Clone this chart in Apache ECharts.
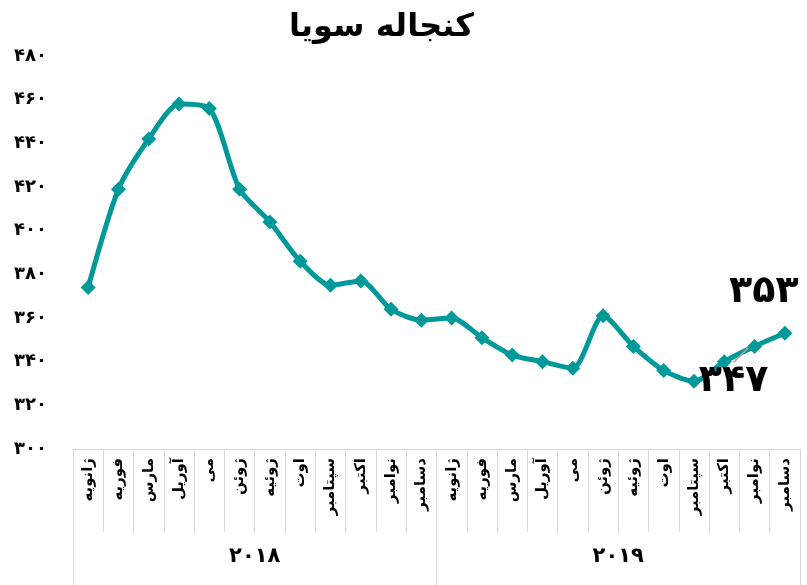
<!DOCTYPE html>
<html>
<head>
<meta charset="utf-8">
<script src="https://cdn.jsdelivr.net/npm/echarts@6/dist/echarts.min.js"></script>
<style>
  html, body { margin: 0; padding: 0; background: #fff; }
  #chart { width: 807px; height: 585px; }
</style>
</head>
<body>
<div id="chart"></div>
<script>
// داده ها
const months = ['ژانویه', 'فوریه', 'مارس', 'آوریل', 'می', 'ژوئن', 'ژوئیه', 'اوت', 'سپتامبر', 'اکتبر', 'نوامبر', 'دسامبر'];
const years = ['۲۰۱۸', '۲۰۱۹'];
const prices2018 = [374, 419, 442, 458, 456, 419, 404, 386, 375, 377, 364, 359];
const prices2019 = [360, 351, 343, 340, 337, 361, 347, 336, 331, 340, 347, 353];
const yMin = 300;
const yMax = 480;
const yStep = 20;
const labelled = [22, 23]; // نقاط دارای برچسب

const faDigits = '۰۱۲۳۴۵۶۷۸۹';
function toFa(n) {
  return String(n).replace(/\d/g, d => faDigits[d]);
}

const categories = months.concat(months);
const values = prices2018.concat(prices2019);
const font = 'DejaVu Sans';

const seriesData = values.map((v, i) => {
  if (labelled.indexOf(i) < 0) return v;
  return {
    value: v,
    label: { show: true },
    labelLine: { show: i === 22, lineStyle: { color: '#a6a6a6', width: 1.5 } }
  };
});

const chart = echarts.init(document.getElementById('chart'));
chart.setOption({
  animation: false,
  title: {
    text: 'کنجاله سویا',
    left: 284,
    top: 7,
    textStyle: { fontFamily: font, fontWeight: 'bold', fontSize: 32, color: '#000' }
  },
  grid: { left: 73, right: 7, top: 56, bottom: 136 },
  xAxis: [
    {
      type: 'category',
      data: categories,
      position: 'bottom',
      axisLine: { show: true, lineStyle: { color: '#d9d9d9', width: 1 } },
      axisTick: { show: true, length: 83, interval: 0, lineStyle: { color: '#d9d9d9', width: 1 } },
      axisLabel: {
        interval: 0,
        rotate: 90,
        margin: 9,
        fontFamily: font,
        fontWeight: 'bold',
        fontSize: 15,
        color: '#000'
      }
    },
    {
      type: 'category',
      data: years,
      position: 'bottom',
      offset: 83,
      axisLine: { show: false },
      axisTick: { show: true, length: 60, interval: 0, lineStyle: { color: '#d9d9d9', width: 1 } },
      axisLabel: {
        interval: 0,
        margin: 14,
        fontFamily: font,
        fontWeight: 'bold',
        fontSize: 21,
        color: '#000'
      }
    }
  ],
  yAxis: {
    type: 'value',
    min: yMin,
    max: yMax,
    interval: yStep,
    axisLine: { show: false },
    axisTick: { show: false },
    splitLine: { show: false },
    axisLabel: {
      margin: 26,
      fontFamily: font,
      fontWeight: 'bold',
      fontSize: 18,
      color: '#000',
      formatter: v => toFa(v)
    }
  },
  series: [
    {
      type: 'line',
      xAxisIndex: 0,
      data: seriesData,
      smooth: 0.25,
      symbol: 'diamond',
      symbolSize: 15,
      lineStyle: { color: '#009999', width: 5 },
      itemStyle: { color: '#009999' },
      label: {
        show: false,
        position: 'inside',
        fontFamily: font,
        fontWeight: 'bold',
        fontSize: 38,
        color: '#000',
        formatter: p => toFa(p.value)
      },
      labelLayout: p => {
        if (p.dataIndex === 22) return { dx: -21, dy: 35 };
        if (p.dataIndex === 23) return { dx: -21, dy: -41 };
        return {};
      }
    }
  ]
});
</script>
</body>
</html>
